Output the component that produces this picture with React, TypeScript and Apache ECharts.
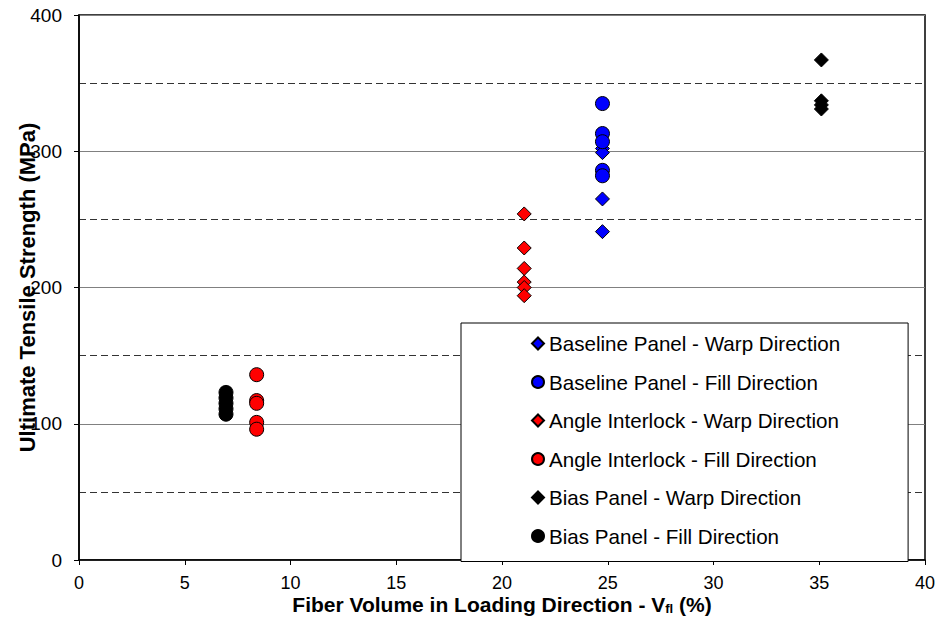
import React, { useEffect, useRef } from "react";
import * as echarts from "echarts";

const seriesNames = [
  "Baseline Panel - Warp Direction",
  "Baseline Panel - Fill Direction",
  "Angle Interlock - Warp Direction",
  "Angle Interlock - Fill Direction",
  "Bias Panel - Warp Direction",
  "Bias Panel - Fill Direction",
];
const seriesColors = ["#0000ff", "#0000ff", "#ff0000", "#ff0000", "#000000", "#000000"];
const seriesSymbols = ["diamond", "circle", "diamond", "circle", "diamond", "circle"];

const baselineWarpX = 24.75;
const baselineWarpY = [302, 299, 265, 241];
const baselineFillX = 24.75;
const baselineFillY = [335, 313, 307, 286, 282];
const angleWarpX = 21.05;
const angleWarpY = [254, 229, 214, 204, 200, 194];
const angleFillX = 8.4;
const angleFillY = [136, 117, 115, 101, 96];
const biasWarpX = 35.1;
const biasWarpY = [367, 337, 334, 331];
const biasFillX = 6.95;
const biasFillY = [123, 119, 115, 111, 107];

const xs = [baselineWarpX, baselineFillX, angleWarpX, angleFillX, biasWarpX, biasFillX];
const ys = [baselineWarpY, baselineFillY, angleWarpY, angleFillY, biasWarpY, biasFillY];

const xTicks = { min: 0, max: 40, interval: 5 };
const yTicks = { min: 0, max: 400, interval: 100 };

export default function App() {
  const ref = useRef<HTMLDivElement>(null);
  useEffect(() => {
    if (!ref.current) return;
    const chart = echarts.init(ref.current, undefined, { renderer: "svg" });
    const font = "Liberation Sans, Arial, sans-serif";
    chart.setOption({
      animation: false,
      textStyle: { fontFamily: font },
      grid: {
        left: 79,
        right: 14,
        top: 15,
        bottom: 66,
        containLabel: false,
        outerBoundsMode: "none",
        show: true,
        borderColor: "#000",
        borderWidth: 1.5,
        backgroundColor: "transparent",
      },
      xAxis: {
        type: "value",
        min: xTicks.min,
        max: xTicks.max,
        interval: xTicks.interval,
        axisLine: { show: true, onZero: false, lineStyle: { color: "#000", width: 1.5 } },
        axisTick: { show: true, length: 5, lineStyle: { color: "#000" } },
        axisLabel: { color: "#000", fontSize: 18, fontFamily: font, margin: 15, lineHeight: 16 },
        splitLine: { show: false },
        name: "Fiber Volume in Loading Direction - V{sub|fl} (%)",
        nameLocation: "middle",
        nameGap: 34,
        nameMoveOverlap: false,
        nameTextStyle: {
          color: "#000",
          fontSize: 21,
          fontWeight: "bold",
          fontFamily: font,
          verticalAlign: "top",
          rich: {
            sub: { fontSize: 13, fontWeight: "bold", verticalAlign: "bottom", padding: [8, 0, 0, 0], fontFamily: font },
          },
        },
      },
      yAxis: {
        type: "value",
        min: yTicks.min,
        max: yTicks.max,
        interval: yTicks.interval,
        axisLine: { show: true, onZero: false, lineStyle: { color: "#000", width: 1.5 } },
        axisTick: { show: true, length: 5, lineStyle: { color: "#000" } },
        axisLabel: { color: "#000", fontSize: 19, fontFamily: font, margin: 17 },
        splitLine: { show: true, lineStyle: { color: "#808080", width: 1, type: "solid" } },
        minorTick: { show: false, splitNumber: 2 },
        minorSplitLine: { show: true, lineStyle: { color: "#333", width: 1, type: [7, 4] } },
        name: "Ultimate Tensile Strength (MPa)",
        nameLocation: "middle",
        nameGap: 41,
        nameMoveOverlap: false,
        nameRotate: 90,
        nameTextStyle: { color: "#000", fontSize: 22, fontWeight: "bold", fontFamily: font },
      },
      legend: {
        orient: "vertical",
        left: 461,
        top: 323,
        padding: [10, 68, 15, 70],
        itemGap: 17.5,
        itemWidth: 12,
        itemHeight: 12,
        borderColor: "#000",
        borderWidth: 1,
        backgroundColor: "#fff",
        textStyle: { color: "#000", fontSize: 20.6, fontFamily: font, lineHeight: 20 },
        data: seriesNames.map((n, i) => ({ name: n, icon: seriesSymbols[i] })),
      },
      series: seriesNames.map((name, i) => ({
        name,
        type: "scatter",
        symbol: seriesSymbols[i],
        symbolSize: 14,
        itemStyle: { color: seriesColors[i], borderColor: "#000", borderWidth: 1, opacity: 1 },
        data: ys[i].map((v) => [xs[i], v]),
        z: 3,
      })),
    });
    return () => chart.dispose();
  }, []);
  return (
    <div
      ref={ref}
      style={{ position: "fixed", left: 0, top: 0, width: 939, height: 626, background: "#fff" }}
    />
  );
}
